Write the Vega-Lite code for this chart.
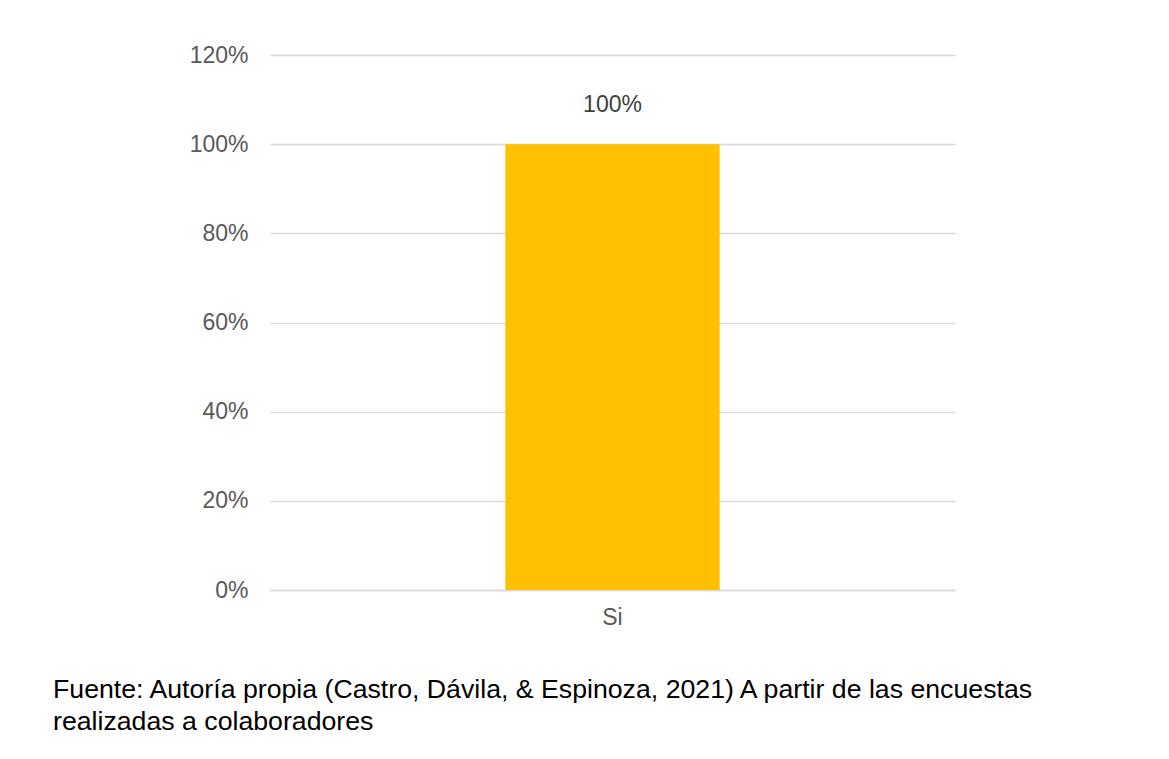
{
  "$schema": "https://vega.github.io/schema/vega-lite/v6.json",
  "width": 685,
  "height": 535,
  "autosize": {"type": "none"},
  "padding": {"left": 270, "top": 55, "right": 214, "bottom": 169},
  "background": "white",
  "config": {
    "view": {"stroke": null},
    "font": "Liberation Sans"
  },
  "data": {"values": [{"respuesta": "Si", "porcentaje": 1.0}]},
  "title": {
    "text": ["Fuente: Autoría propia (Castro, Dávila, & Espinoza, 2021) A partir de las encuestas", "realizadas a colaboradores"],
    "orient": "bottom",
    "anchor": "start",
    "frame": "group",
    "dx": -217,
    "offset": 48,
    "fontSize": 26.7,
    "fontWeight": "normal",
    "color": "#000000",
    "lineHeight": 32,
    "font": "Liberation Sans"
  },
  "encoding": {
    "x": {
      "field": "respuesta",
      "type": "nominal",
      "scale": {"paddingInner": 0, "paddingOuter": 1},
      "axis": {
        "title": null,
        "labelAngle": 0,
        "labelFontSize": 23,
        "labelColor": "#595959",
        "labelPadding": 16,
        "ticks": false,
        "domainColor": "#D9D9D9",
        "domainWidth": 1.5
      }
    },
    "y": {
      "field": "porcentaje",
      "type": "quantitative",
      "scale": {"domain": [0, 1.2], "nice": false},
      "axis": {
        "title": null,
        "values": [0, 0.2, 0.4, 0.6, 0.8, 1.0, 1.2],
        "format": ".0%",
        "labelFontSize": 23,
        "labelColor": "#595959",
        "labelPadding": 22,
        "ticks": false,
        "domain": false,
        "gridColor": "#D9D9D9",
        "gridWidth": 1.5
      }
    }
  },
  "layer": [
    {"mark": {"type": "bar", "color": "#FFC000", "width": {"band": 0.9386}}},
    {
      "mark": {"type": "text", "baseline": "alphabetic", "dy": -32, "fontSize": 23, "color": "#404040"},
      "encoding": {"text": {"field": "porcentaje", "type": "quantitative", "format": ".0%"}}
    }
  ]
}
